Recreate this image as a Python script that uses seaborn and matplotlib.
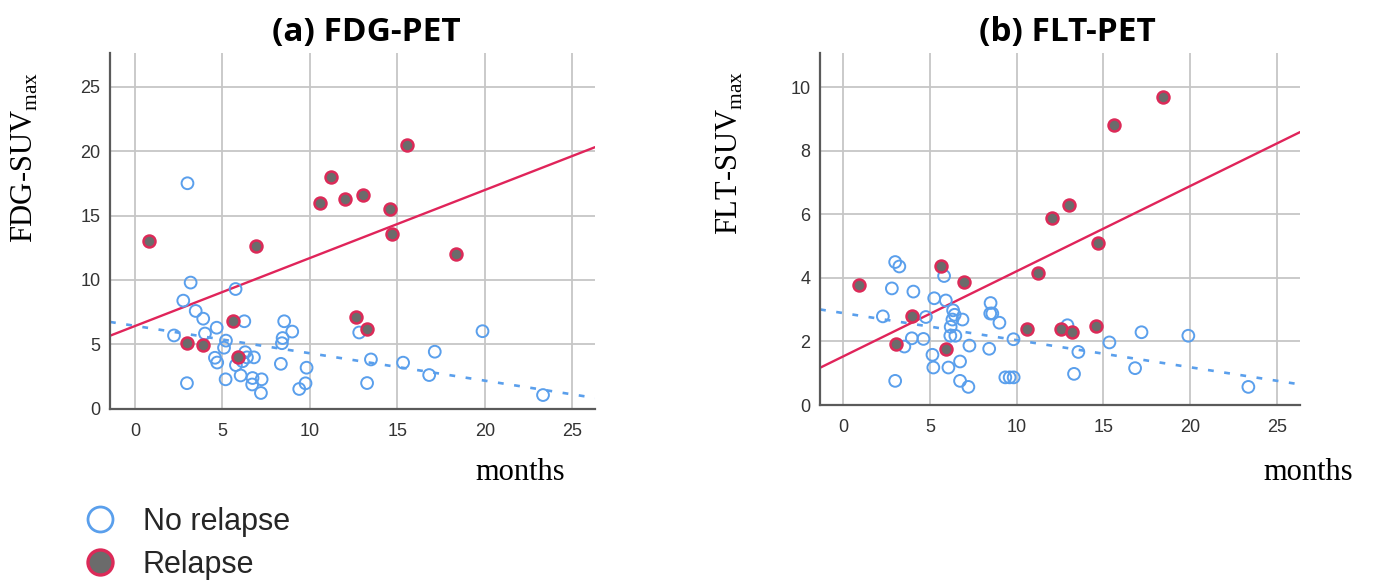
import numpy as np
import pandas as pd
import matplotlib
matplotlib.use("Agg")
import matplotlib.pyplot as plt
import seaborn as sns
from matplotlib.lines import Line2D

# ---------------- data ----------------
fdg_norelapse_months = [3.0, 3.18, 5.75, 2.76, 3.47, 3.9, 6.25, 8.53, 8.99, 4.67, 4.0, 2.23,
                        8.44, 8.4, 5.2, 5.09, 4.57, 4.7, 6.3, 6.8, 6.4, 5.77, 6.15, 8.34,
                        9.81, 2.97, 5.18, 6.04, 6.72, 7.24, 6.7, 7.2, 9.39, 9.75, 12.82,
                        19.87, 13.49, 13.27, 15.33, 17.14, 16.82, 23.33]
fdg_norelapse_suv = [17.5, 9.8, 9.3, 8.4, 7.6, 7.0, 6.8, 6.8, 6.0, 6.3, 5.85, 5.7,
                     5.5, 5.1, 5.3, 4.75, 3.97, 3.6, 4.4, 4.0, 4.0, 3.4, 3.7, 3.5,
                     3.2, 2.0, 2.3, 2.6, 2.4, 2.3, 1.9, 1.24, 1.55, 1.99, 5.93,
                     6.03, 3.84, 2.01, 3.59, 4.44, 2.63, 1.08]
fdg_relapse_months = [0.82, 6.9, 5.58, 2.99, 3.9, 5.87, 15.56, 11.2, 10.57, 12.0, 13.05,
                      14.57, 14.69, 18.38, 12.61, 13.24]
fdg_relapse_suv = [13.0, 12.6, 6.84, 5.13, 4.95, 4.05, 20.47, 17.97, 16.0, 16.27, 16.58,
                   15.5, 13.59, 11.99, 7.12, 6.22]

flt_norelapse_months = [3.0, 3.24, 5.82, 2.81, 4.05, 5.25, 5.92, 8.5, 8.48, 8.6, 9.01,
                        6.34, 6.43, 6.88, 6.3, 6.2, 4.77, 2.29, 6.47, 6.18, 4.63, 3.96,
                        3.53, 7.28, 8.42, 9.82, 12.93, 15.35, 17.2, 19.9, 13.56, 13.31,
                        16.83, 23.36, 5.15, 5.2, 6.07, 6.74, 6.74, 7.22, 3.0, 9.35,
                        9.6, 9.83]
flt_norelapse_suv = [4.5, 4.36, 4.06, 3.67, 3.57, 3.36, 3.29, 3.21, 2.88, 2.88, 2.59,
                     2.98, 2.84, 2.69, 2.69, 2.46, 2.77, 2.79, 2.18, 2.18, 2.08, 2.1,
                     1.84, 1.87, 1.77, 2.07, 2.51, 1.97, 2.29, 2.18, 1.67, 0.98,
                     1.16, 0.57, 1.58, 1.18, 1.18, 1.37, 0.76, 0.57, 0.76, 0.87,
                     0.87, 0.87]
flt_relapse_months = [5.63, 6.95, 11.21, 0.9, 3.95, 3.07, 5.93, 10.6, 12.58, 13.22, 14.6,
                      18.43, 15.64, 13.04, 12.03, 14.7]
flt_relapse_suv = [4.37, 3.88, 4.16, 3.77, 2.79, 1.93, 1.77, 2.4, 2.4, 2.29, 2.5,
                   9.69, 8.8, 6.29, 5.88, 5.1]

x_ticks = [0, 5, 10, 15, 20, 25]
fdg_yticks = [0, 5, 10, 15, 20, 25]
flt_yticks = [0, 2, 4, 6, 8, 10]
group_labels = ["No relapse", "Relapse"]
titles = ["(a) FDG-PET", "(b) FLT-PET"]

# ---------------- style ----------------
BLUE = "#5a9fec"
RED_EDGE = "#dc2a58"
RED_LINE = "#e0245a"
GRAY_FACE = "#6b6b6b"
GRID = "#c6c6c6"
SPINE = "#5a5a5a"

sns.set_theme(style="white")
plt.rcParams["font.family"] = ["Liberation Sans", "DejaVu Sans"]

fig = plt.figure(figsize=(13.75, 5.83), dpi=100)
axL = fig.add_axes([0.0800, 0.2985, 0.3527, 0.6106])
axR = fig.add_axes([0.5964, 0.3053, 0.3491, 0.6033])


def panel(ax, xn, yn, xr, yr, xlim, ylim, yticks):
    ax.set_xlim(xlim)
    ax.set_ylim(ylim)
    ax.set_xticks(x_ticks)
    ax.set_yticks(yticks)
    ax.grid(True, color=GRID, lw=1.3)
    ax.set_axisbelow(True)

    sns.regplot(x=np.array(xn), y=np.array(yn), ax=ax, scatter=False, ci=None,
                truncate=False, color=BLUE,
                line_kws=dict(lw=1.9, ls=(0, (2.2, 4.0)), zorder=2))
    sns.regplot(x=np.array(xr), y=np.array(yr), ax=ax, scatter=False, ci=None,
                truncate=False, color=RED_LINE,
                line_kws=dict(lw=1.7, zorder=2))

    sns.scatterplot(x=xn, y=yn, ax=ax, s=72, marker="o", color=BLUE,
                    linewidth=1.4, legend=False, zorder=3)
    coll = ax.collections[-1]
    coll.set_facecolor("none")
    coll.set_edgecolor(BLUE)

    sns.scatterplot(x=xr, y=yr, ax=ax, s=74, marker="o", color=GRAY_FACE,
                    edgecolor=RED_EDGE, linewidth=1.8, legend=False, zorder=4)

    ax.set_xlim(xlim)
    ax.set_ylim(ylim)
    ax.set_xlabel("")
    ax.set_ylabel("")
    for s in ["top", "right"]:
        ax.spines[s].set_visible(False)
    for s in ["left", "bottom"]:
        ax.spines[s].set_color(SPINE)
        ax.spines[s].set_linewidth(1.6)
        ax.spines[s].set_zorder(5)
    ax.tick_params(axis="both", length=0, labelsize=13, labelcolor="#333333")
    ax.tick_params(axis="x", pad=10)
    ax.tick_params(axis="y", pad=7)


panel(axL, fdg_norelapse_months, fdg_norelapse_suv, fdg_relapse_months, fdg_relapse_suv,
      (-1.43, 26.3), (0, 27.6), fdg_yticks)
panel(axR, flt_norelapse_months, flt_norelapse_suv, flt_relapse_months, flt_relapse_suv,
      (-1.33, 26.34), (0, 11.07), flt_yticks)

W, H = 1375.0, 583.0
title_kw = dict(ha="center", va="center", fontsize=24, fontweight="bold",
                family=["Open Sans", "DejaVu Sans"], color="black")
fig.text(366 / W, 1 - 32 / H, titles[0], **title_kw)
fig.text(1067 / W, 1 - 32 / H, titles[1], **title_kw)

ylab_kw = dict(ha="center", va="center", rotation=90, fontsize=22,
               family=["Liberation Serif", "DejaVu Serif"], color="black")
fig.text(25 / W, 1 - 158 / H, r"FDG-SUV$_{\mathregular{max}}$", **ylab_kw)
fig.text(730 / W, 1 - 153 / H, r"FLT-SUV$_{\mathregular{max}}$", **ylab_kw)

xlab_kw = dict(ha="center", va="center", fontsize=22,
               family=["Liberation Serif", "DejaVu Serif"], color="black")
fig.text(520 / W, 1 - 473 / H, "months", **xlab_kw)
fig.text(1308 / W, 1 - 473 / H, "months", **xlab_kw)

handles = [
    Line2D([], [], marker="o", ls="", ms=18, mfc="white", mec=BLUE, mew=2.0),
    Line2D([], [], marker="o", ls="", ms=18, mfc=GRAY_FACE, mec=RED_EDGE, mew=2.4),
]
fig.legend(handles, group_labels, loc="upper left", bbox_to_anchor=(83 / W, 1 - 507 / H),
           frameon=False, handletextpad=0.85, labelspacing=0.42,
           borderpad=0, borderaxespad=0, handlelength=1.1,
           prop={"family": ["Liberation Sans", "DejaVu Sans"], "size": 22})

fig.savefig("out.png", dpi=100)
